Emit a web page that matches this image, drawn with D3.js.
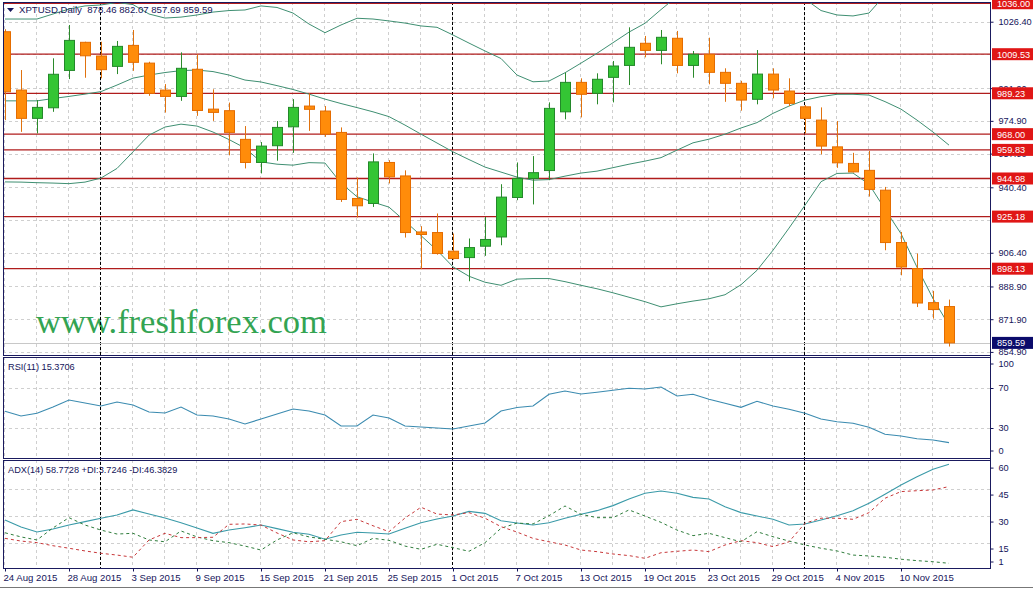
<!DOCTYPE html>
<html><head><meta charset="utf-8">
<script src="https://cdn.jsdelivr.net/npm/d3@7"></script>
<style>body{margin:0;background:#fff;}svg{display:block;}</style>
</head><body>
<svg id="chart" width="1033" height="589"></svg>
<script>
// ---------- DATA ----------
const dates = ["24 Aug 2015","25 Aug 2015","26 Aug 2015","27 Aug 2015","28 Aug 2015","31 Aug 2015",
"1 Sep 2015","2 Sep 2015","3 Sep 2015","4 Sep 2015","7 Sep 2015","8 Sep 2015","9 Sep 2015","10 Sep 2015","11 Sep 2015",
"14 Sep 2015","15 Sep 2015","16 Sep 2015","17 Sep 2015","18 Sep 2015","21 Sep 2015","22 Sep 2015","23 Sep 2015","24 Sep 2015","25 Sep 2015",
"28 Sep 2015","29 Sep 2015","30 Sep 2015","1 Oct 2015","2 Oct 2015","5 Oct 2015","6 Oct 2015","7 Oct 2015","8 Oct 2015","9 Oct 2015",
"12 Oct 2015","13 Oct 2015","14 Oct 2015","15 Oct 2015","16 Oct 2015","19 Oct 2015","20 Oct 2015","21 Oct 2015","22 Oct 2015","23 Oct 2015",
"26 Oct 2015","27 Oct 2015","28 Oct 2015","29 Oct 2015","30 Oct 2015","2 Nov 2015","3 Nov 2015","4 Nov 2015","5 Nov 2015","6 Nov 2015",
"9 Nov 2015","10 Nov 2015","11 Nov 2015","12 Nov 2015","13 Nov 2015"];

const open  = [1021.2,990.9,976.2,981.7,1001.1,1015.7,1008.6,1003.2,1014.1,1004.9,990.9,987.6,1001.7,981.0,980.2,965.3,953.3,962.0,971.8,982.6,
980.0,968.9,934.6,932.0,953.3,946.3,917.2,916.9,907.2,903.9,909.8,914.6,935.1,945.0,949.1,979.6,994.9,989.2,997.5,1003.7,
1015.2,1011.5,1017.8,1003.7,1009.5,1000.1,994.4,986.1,999.2,990.4,982.2,975.3,961.4,952.8,949.2,938.9,911.7,898.2,880.5,878.46];
const high  = [1022.5,1001.3,985.7,1007.4,1024.7,1016.0,1016.0,1016.4,1022.1,1005.6,994.0,1010.5,1009.5,991.3,984.4,972.2,963.9,974.8,986.2,989.2,
982.6,971.5,945.5,958.0,954.5,949.2,920.2,926.8,916.4,913.8,925.0,942.0,953.3,956.6,984.5,999.9,997.0,999.6,1006.0,1023.5,
1019.0,1022.1,1021.6,1011.2,1018.1,1002.2,995.7,1011.7,1002.2,997.0,983.1,981.9,974.8,958.3,959.3,940.6,917.2,906.0,886.6,882.07];
const low   = [975.3,969.2,968.4,979.6,996.6,997.3,997.0,999.2,1000.9,987.9,979.2,985.3,977.5,974.9,957.0,950.2,947.6,954.2,958.3,969.7,
966.6,932.8,924.7,930.2,942.4,914.3,897.9,905.4,902.8,891.6,904.8,910.3,933.7,931.5,944.1,975.7,976.7,983.5,984.5,993.5,
1007.9,1004.3,999.6,997.3,993.9,984.8,980.2,983.5,986.6,982.6,968.4,957.5,950.5,948.1,935.6,907.7,894.7,878.2,872.2,857.69];
const close = [990.0,976.2,981.9,999.1,1016.7,1008.7,1001.5,1013.6,1005.3,989.2,987.6,1002.2,980.3,979.3,968.9,953.3,961.8,971.5,981.9,980.9,
968.0,934.1,930.8,953.6,945.8,916.9,915.9,906.0,903.4,909.1,913.3,935.3,945.0,948.0,981.4,994.9,988.7,996.5,1003.4,1013.1,
1011.5,1018.3,1003.7,1009.5,1000.1,994.4,985.7,999.2,990.9,984.0,976.2,961.8,953.1,948.4,939.3,911.7,899.0,880.3,876.9,859.59];

// Bollinger bands
const bbUpper = [1027.8,1027.8,1027.8,1030.4,1033.0,1034.6,1035.1,1036.4,1035.3,1030.4,1028.3,1028.8,1029.9,1031.4,1032.2,1032.5,1034.6,1033.8,1030.9,1025.2,
1020.7,1024.7,1028.2,1027.8,1026.8,1025.7,1024.2,1023.5,1019.5,1015.3,1011.2,1007.3,998.7,995.2,995.6,999.9,1004.9,1010.0,1015.5,1021.0,
1025.6,1032.7,1039.5,1045.7,1048.3,1051.5,1052.5,1050.7,1049.8,1046.0,1038.2,1032.2,1029.9,1029.4,1030.9,1040.3,1045.7,1051.7,1055.5,1055.9];
const bbMiddle = [985.3,985.3,985.3,986.5,987.6,988.8,990.1,993.5,997.1,998.7,1000.0,1001.0,1001.3,1000.5,998.7,996.1,995.1,993.2,991.2,988.8,
986.2,983.9,981.8,979.6,977.1,972.7,968.0,963.4,958.8,954.8,950.9,948.3,945.7,944.1,944.4,946.2,947.8,948.8,950.6,952.4,
954.0,955.8,959.7,963.5,965.4,968.0,971.2,974.0,978.8,982.6,985.7,987.5,988.7,988.7,988.3,984.9,981.0,975.3,969.1,962.3];
const bbLower = [943.2,943.1,942.8,942.6,942.3,943.1,945.2,950.2,958.8,967.5,971.7,973.2,972.2,969.1,965.2,960.8,953.6,952.4,951.9,953.2,
953.0,942.6,935.5,932.7,930.1,922.8,915.3,907.7,899.1,894.2,891.1,889.5,892.7,893.0,893.0,891.4,889.5,887.7,885.6,883.3,
881.0,878.3,879.9,881.3,882.5,884.6,889.8,897.3,907.7,919.2,931.1,943.3,947.6,947.8,942.0,929.0,916.3,898.9,882.6,868.7];

const rsi = [46.7,42,44.7,51,58,55,52,56,53,46,45,51,43,42,39,34,39,44,49,47,
43,32,32,43,40,32,31,30,29,32,35,47,50.5,52,63.7,67,64,65.7,67.7,69.7,
69,71,62,63.7,58.7,54.7,50.7,56.7,52,48.7,44.7,39,36.3,34.7,30.7,23.7,22,19.3,18,15.3706];

const adx = [27.8,23.9,21.1,22.8,25.0,26.9,28.8,30.6,33.4,31.1,28.9,26.3,23.4,20.4,22.2,23.5,25.0,23.0,21.0,19.9,
17.1,19.5,21.0,20.6,20.0,23.2,26.3,28.4,30.0,32.6,31.5,27.4,26.1,25.0,26.3,28.8,31.0,33.0,35.8,39.5,
42.7,43.9,42.7,40.4,39.5,35.2,31.9,30.0,28.2,25.0,25.6,27.8,30.2,33.0,37.1,42.1,47.3,51.9,56.0,58.7728];
const plusDI = [20.7,18.4,16.7,23.4,29.1,25.0,22.2,20.0,20.4,16.7,15.7,21.7,18.4,16.3,15.2,13.3,11.1,16.7,20.7,18.4,
17.1,15.7,13.5,17.6,16.5,13.3,11.5,14.3,12.4,10.4,15.2,23.2,26.1,25.6,30.2,35.6,31.0,29.1,29.1,33.4,
30.0,26.5,22.2,19.1,20.4,18.0,15.7,21.3,18.5,16.1,13.9,12.1,10.6,8.3,7.8,7.1,6.0,5.2,4.6,3.7246];
const minusDI = [17.6,16.1,15.2,13.5,12.1,10.6,9.3,8.3,7.1,16.7,20.4,18.0,18.0,18.2,25.4,25.6,25.0,20.6,16.7,15.7,
16.3,26.9,28.2,24.6,21.3,28.9,34.9,31.1,30.6,31.9,28.8,24.1,21.1,17.6,15.7,13.9,11.1,10.2,8.9,8.0,
6.5,9.6,10.4,11.1,10.2,13.9,16.3,15.2,13.0,15.7,26.0,28.8,28.8,28.2,31.9,39.9,43.6,44.1,44.5,46.3829];

const levels = [1036.00,1009.53,989.23,968.00,959.83,944.98,925.18,898.13];
const lastPrice = 859.59;
const priceGrid = [1026.40,1009.40,991.90,974.90,957.90,940.40,923.40,906.40,888.90,871.90,854.90];
const priceTicks = [1026.40,991.90,974.90,957.90,940.40,906.40,888.90,871.90,854.90];
const rsiTicks = [100,70,30,0];
const rsiGrid = [70,30];
const adxTicks = [60,45,30,15,1];
const adxGrid = [45,30,15];
const header = "XPTUSD,Daily  878.46 882.07 857.69 859.59";
const rsiLabel = "RSI(11) 15.3706";
const adxLabel = "ADX(14) 58.7728 +DI:3.7246 -DI:46.3829";
const watermark = "www.freshforex.com";

// ---------- LAYOUT ----------
const L = 3, R = 990;
const main = {top: 2, bottom: 355}, rsiP = {top: 357, bottom: 458}, adxP = {top: 460, bottom: 568};
const FONT = "'Liberation Sans', Arial, sans-serif";
const TXT = "#14145a";

const svg = d3.select("#chart");
const x = d3.scalePoint().domain(dates).range([5, 949]);
const yP = d3.scaleLinear().domain([853.3, 1036.64]).range([main.bottom, main.top]);
const yR = d3.scaleLinear().domain([0, 100]).range([458, 358]);
const yA = d3.scaleLinear().domain([0, 60]).range([570, 462.1]);

const defs = svg.append("defs");
[["cm", main], ["cr", rsiP], ["ca", adxP]].forEach(([id, p]) => {
  defs.append("clipPath").attr("id", id).append("rect")
    .attr("x", L).attr("y", p.top).attr("width", R - L).attr("height", p.bottom - p.top);
});

svg.append("rect").attr("width", 1033).attr("height", 589).attr("fill", "#fff");

// vertical grid (every 2 bars) across all panels
const gridIdx = dates.filter((d, i) => i % 2 === 0);
[main, rsiP, adxP].forEach(p => {
  svg.append("g").selectAll("line").data(gridIdx).join("line")
    .attr("x1", d => x(d) - 0.5).attr("x2", d => x(d) - 0.5)
    .attr("y1", p.top).attr("y2", p.bottom)
    .attr("stroke", "#cfcfcf").attr("stroke-dasharray", "3,3");
});
// horizontal grid
svg.append("g").selectAll("line").data(priceGrid).join("line")
  .attr("x1", L).attr("x2", R).attr("y1", d => Math.round(yP(d)) + 0.5).attr("y2", d => Math.round(yP(d)) + 0.5)
  .attr("stroke", "#cfcfcf").attr("stroke-dasharray", "3,3");
svg.append("g").selectAll("line").data(rsiGrid).join("line")
  .attr("x1", L).attr("x2", R).attr("y1", d => Math.round(yR(d)) + 0.5).attr("y2", d => Math.round(yR(d)) + 0.5)
  .attr("stroke", "#cfcfcf").attr("stroke-dasharray", "3,3");
svg.append("g").selectAll("line").data(adxGrid).join("line")
  .attr("x1", L).attr("x2", R).attr("y1", d => Math.round(yA(d)) + 0.5).attr("y2", d => Math.round(yA(d)) + 0.5)
  .attr("stroke", "#cfcfcf").attr("stroke-dasharray", "3,3");

// watermark
svg.append("text").attr("x", 36).attr("y", 333).text(watermark)
  .attr("font-family", "'Liberation Serif', 'Times New Roman', serif").attr("font-size", 34.5)
  .attr("fill", "#33a452");

// month separators
const sepIdx = ["1 Sep 2015", "1 Oct 2015", "2 Nov 2015"];
svg.append("g").selectAll("line").data(sepIdx).join("line")
  .attr("x1", d => x(d) - 0.5).attr("x2", d => x(d) - 0.5).attr("y1", main.top).attr("y2", adxP.bottom)
  .attr("stroke", "#000").attr("stroke-dasharray", "3,2");

// ---------- MAIN PANEL ----------
const gm = svg.append("g").attr("clip-path", "url(#cm)");
gm.append("line").attr("x1", L).attr("x2", R).attr("y1", Math.round(yP(lastPrice)) + 0.5).attr("y2", Math.round(yP(lastPrice)) + 0.5)
  .attr("stroke", "#c8c8c8");
gm.append("g").selectAll("line").data(levels).join("line")
  .attr("x1", L).attr("x2", R).attr("y1", d => yP(d)).attr("y2", d => yP(d))
  .attr("stroke", "#b01c1c").attr("stroke-width", 1.3);

const bbColor = "#3f8f72";
[bbUpper, bbMiddle, bbLower].forEach(arr => {
  gm.append("path").datum(arr)
    .attr("d", d3.line().x((d, i) => x(dates[i])).y(d => yP(d)))
    .attr("fill", "none").attr("stroke", bbColor).attr("stroke-width", 1);
});

const candles = dates.map((d, i) => ({d, o: open[i], h: high[i], l: low[i], c: close[i]}));
const cg = gm.append("g").selectAll("g").data(candles).join("g");
cg.append("line")
  .attr("x1", d => x(d.d) + 0.5).attr("x2", d => x(d.d) + 0.5)
  .attr("y1", d => yP(d.h)).attr("y2", d => yP(d.l))
  .attr("stroke", d => d.c >= d.o ? "#2b8a2b" : "#e0720e").attr("stroke-width", 1);
cg.append("rect")
  .attr("x", d => x(d.d) - 4.5).attr("width", 10)
  .attr("y", d => yP(Math.max(d.o, d.c)))
  .attr("height", d => Math.max(1, Math.abs(yP(d.o) - yP(d.c))))
  .attr("fill", d => d.c >= d.o ? "#34c534" : "#ff8c0a")
  .attr("stroke", d => d.c >= d.o ? "#23882a" : "#e46c00").attr("stroke-width", 1);

// ---------- RSI ----------
const gr = svg.append("g").attr("clip-path", "url(#cr)");
gr.append("path").datum(rsi)
  .attr("d", d3.line().x((d, i) => x(dates[i])).y(d => yR(d)))
  .attr("fill", "none").attr("stroke", "#3b8bb0").attr("stroke-width", 1.1);

// ---------- ADX ----------
const ga = svg.append("g").attr("clip-path", "url(#ca)");
const la = d3.line().x((d, i) => x(dates[i])).y(d => yA(d));
ga.append("path").datum(adx).attr("d", la).attr("fill", "none").attr("stroke", "#3a9aa8").attr("stroke-width", 1.1);
ga.append("path").datum(plusDI).attr("d", la).attr("fill", "none").attr("stroke", "#2f7d3c").attr("stroke-dasharray", "3,3");
ga.append("path").datum(minusDI).attr("d", la).attr("fill", "none").attr("stroke", "#c8383a").attr("stroke-dasharray", "3,3");

// ---------- BORDERS ----------
[main, rsiP, adxP].forEach(p => {
  svg.append("rect").attr("x", L + 0.5).attr("y", p.top + 0.5).attr("width", R - L).attr("height", p.bottom - p.top)
    .attr("fill", "none").attr("stroke", "#1a1a5e");
});
svg.append("line").attr("x1", 0).attr("x2", 1033).attr("y1", 587.5).attr("y2", 587.5).attr("stroke", "#777");

// ---------- AXES ----------
const axP = svg.append("g").attr("transform", `translate(${R + 0.5},0)`)
  .call(d3.axisRight(yP).tickValues(priceTicks).tickFormat(d3.format(".2f")).tickSize(3).tickPadding(5));
const axR = svg.append("g").attr("transform", `translate(${R + 0.5},0)`)
  .call(d3.axisRight(yR).tickValues(rsiTicks).tickFormat(d3.format("d")).tickSize(3).tickPadding(5));
const axA = svg.append("g").attr("transform", `translate(${R + 0.5},0)`)
  .call(d3.axisRight(yA).tickValues(adxTicks).tickFormat(d3.format("d")).tickSize(3).tickPadding(5));
[axP, axR, axA].forEach(a => {
  a.select(".domain").remove();
  a.selectAll("line").attr("stroke", TXT);
  a.selectAll("text").attr("font-family", FONT).attr("font-size", 9.2).attr("fill", TXT);
});
axR.selectAll(".tick").filter(d => d === 100).attr("transform", `translate(0,${yR(100) + 6})`);
axR.selectAll(".tick").filter(d => d === 0).attr("transform", `translate(0,${yR(0) - 7})`);
axA.selectAll(".tick").attr("transform", d => `translate(0,${Math.min(yA(d) + 6, 562)})`);

svg.append("line").attr("x1", R + 0.5).attr("x2", R + 0.5).attr("y1", main.top).attr("y2", adxP.bottom + 1).attr("stroke", "#1a1a5e");

// level boxes
const lv = svg.append("g").selectAll("g").data(levels).join("g").attr("transform", d => `translate(992,${yP(d)})`);
lv.append("rect").attr("x", 0).attr("y", -6).attr("width", 41).attr("height", 12).attr("fill", "#e01616");
lv.append("text").attr("x", 5).attr("y", 3.5).text(d => d3.format(".2f")(d))
  .attr("font-family", FONT).attr("font-size", 9.2).attr("fill", "#fff");
const lp = svg.append("g").attr("transform", `translate(992,${yP(lastPrice)})`);
lp.append("rect").attr("x", 0).attr("y", -6).attr("width", 41).attr("height", 12).attr("fill", "#0b0b6b");
lp.append("text").attr("x", 5).attr("y", 3.5).text(d3.format(".2f")(lastPrice))
  .attr("font-family", FONT).attr("font-size", 9.2).attr("fill", "#fff");

// x axis
const dateTicks = dates.filter((d, i) => i % 4 === 0);
const axX = svg.append("g").attr("transform", `translate(0,${adxP.bottom + 0.5})`)
  .call(d3.axisBottom(x).tickValues(dateTicks).tickSize(3).tickPadding(3));
axX.select(".domain").remove();
axX.selectAll("line").attr("stroke", TXT);
axX.selectAll("text").attr("text-anchor", "start").attr("x", -2)
  .attr("font-family", FONT).attr("font-size", 9.6).attr("fill", TXT);

// ---------- LABELS ----------
svg.append("path").attr("d", "M7,8 L14,8 L10.5,12 Z").attr("fill", TXT);
svg.append("text").attr("x", 19).attr("y", 13).text(header)
  .style("white-space", "pre").attr("font-family", FONT).attr("font-size", 9.6).attr("fill", TXT);
svg.append("text").attr("x", 8).attr("y", 370).text(rsiLabel)
  .attr("font-family", FONT).attr("font-size", 9.2).attr("fill", TXT);
svg.append("text").attr("x", 8).attr("y", 473).text(adxLabel)
  .attr("font-family", FONT).attr("font-size", 9.2).attr("fill", TXT);
</script></body></html>
